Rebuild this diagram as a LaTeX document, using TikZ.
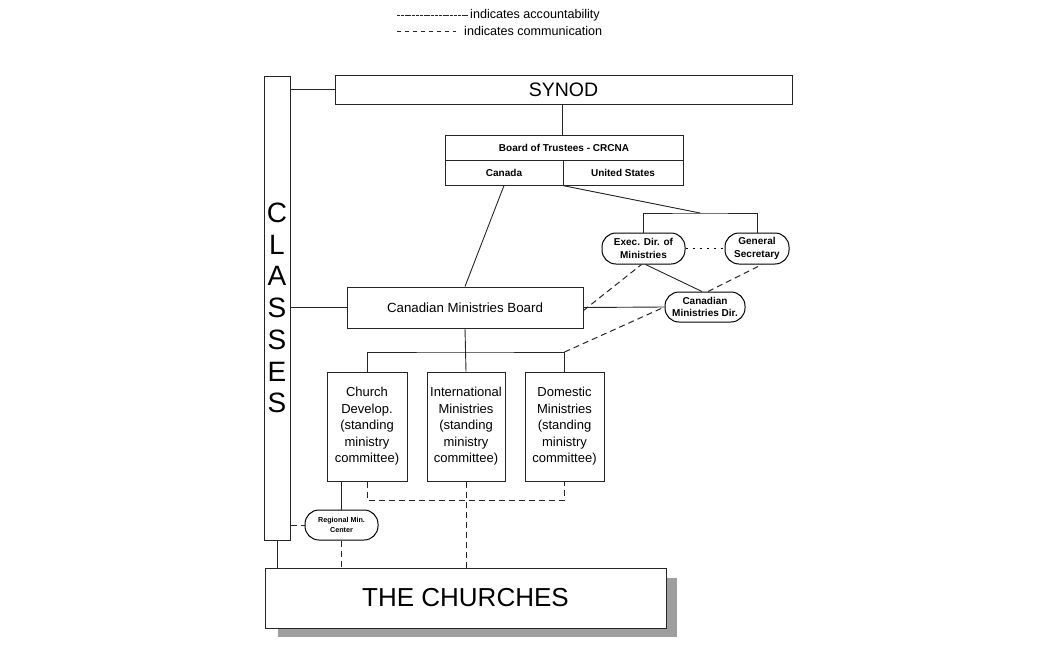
\documentclass[tikz,border=0pt]{standalone}
\usepackage{fontspec}
\setmainfont{Liberation Sans}
\usetikzlibrary{backgrounds}
\tikzset{
  box/.style={draw=black!85, line width=1pt, fill=white, inner sep=0pt, align=center},
  oval/.style={draw=black, line width=1pt, fill=white, inner sep=0pt, align=center, rounded corners=14pt, font=\bfseries\fontsize{10}{12.5}\selectfont},
  smallbold/.style={font=\bfseries\fontsize{10}{11}\selectfont},
  acc/.style={draw=black!85, line width=0.9pt},
  comm/.style={draw=black!85, line width=1pt, dash pattern=on 6pt off 4pt},
  dotline/.style={draw=black, line width=1.3pt, dash pattern=on 2pt off 5pt},
  legtext/.style={inner sep=0pt, anchor=west, font=\fontsize{12.6}{14}\selectfont},
}
\begin{document}
\begin{tikzpicture}[x=1pt,y=-1pt]
\useasboundingbox (0,0) rectangle (1050,656);
% legend
\node[legtext] (leg1) at (470,15) {indicates accountability};
\node[legtext] (leg2) at (464,31) {indicates communication};
\coordinate (l1) at (397,15);
\coordinate (l2) at (397,31);
\draw[acc, dash pattern=on 3pt off 0.8pt, line width=0.8pt] (l1) -- ([xshift=-2pt]leg1.west);
\draw[comm, dash pattern=on 4pt off 4pt, line width=0.8pt] (l2) -- ([xshift=-8pt]leg2.west);
% nodes
\node[box, minimum width=26pt, minimum height=464pt, font=\fontsize{28}{31.7}\selectfont] (classes) at (277,308) {C\\L\\A\\S\\S\\E\\S};
\node[box, minimum width=457pt, minimum height=29pt, font=\fontsize{19.5}{21}\selectfont] (synod) at (563.5,89.5) {SYNOD};
\node[box, smallbold, minimum width=238pt, minimum height=25pt] (bot) at (564,147.5) {Board of Trustees - CRCNA};
\node[box, smallbold, minimum width=118pt, minimum height=25pt] (canada) at (504,172.5) {Canada};
\node[box, smallbold, minimum width=120pt, minimum height=25pt] (us) at (623,172.5) {United States};
\node[oval, minimum width=83pt, minimum height=31pt] (execdir) at (643.5,248.5) {Exec. Dir. of\\Ministries};
\node[oval, minimum width=64pt, minimum height=31pt] (gensec) at (757,248.5) {General\\Secretary};
\node[oval, minimum width=80pt, minimum height=30pt] (candir) at (705,307) {Canadian\\Ministries Dir.};
\node[box, minimum width=236pt, minimum height=41pt, font=\fontsize{13.3}{15}\selectfont] (cmb) at (465,307.5) {Canadian Ministries Board};
\node[box, minimum width=80pt, minimum height=109pt, font=\fontsize{13}{16.5}\selectfont] (cd) at (367,426.5) {Church\\Develop.\\(standing\\ministry\\committee)};
\node[box, minimum width=78pt, minimum height=109pt, font=\fontsize{13}{16.5}\selectfont] (intl) at (466,426.5) {International\\Ministries\\(standing\\ministry\\committee)};
\node[box, minimum width=79pt, minimum height=109pt, font=\fontsize{13}{16.5}\selectfont] (dom) at (564.5,426.5) {Domestic\\Ministries\\(standing\\ministry\\committee)};
\node[oval, minimum width=73pt, minimum height=30pt, font=\bfseries\fontsize{7.2}{9.5}\selectfont] (regional) at (341.5,525) {Regional Min.\\Center};
\node[box, minimum width=401pt, minimum height=60pt, font=\fontsize{26}{28}\selectfont] (churches) at (465.5,598) {THE CHURCHES};
\begin{scope}[on background layer]
\fill[black!38] ([xshift=13pt]churches.south west) rectangle ([xshift=10pt,yshift=-8pt]churches.south east);
\fill[black!38] ([yshift=-10pt]churches.north east) rectangle ([xshift=10pt,yshift=-8pt]churches.south east);
\end{scope}
% junctions
\coordinate (jus) at (700,213);
\coordinate (jcmb) at (465,352);
\coordinate (jdash) at (465,500);
% accountability connectors
\draw[acc] (classes.east |- synod.west) -- (synod.west);
\draw[acc] (synod.south -| us.north west) -- (bot.north -| us.north west);
\draw[acc] (canada.south) -- (cmb.north);
\draw[acc] (us.south west) -- (jus);
\draw[acc] (execdir.north) |- (jus) -| (gensec.north);
\draw[acc] (classes.east |- cmb.west) -- (cmb.west);
\draw[acc] (cmb.east) -- (candir.west);
\draw[acc] ([xshift=2pt]execdir.south) -- ([xshift=-3pt]candir.north);
\draw[acc] (cmb.south) -- (intl.north);
\draw[acc] (cd.north) |- (jcmb) -| (dom.north);
\draw[acc] (regional.north |- cd.south) -- (regional.north);
\draw[acc] (classes.south) -- (classes.south |- churches.north);
% communication connectors
\draw[dotline] (execdir.east) -- (gensec.west);
\draw[comm] ([yshift=-3pt]cmb.east) -- ([xshift=-2pt]execdir.south);
\draw[comm] ([xshift=3pt]candir.north) -- ([xshift=5pt]gensec.south);
\draw[comm] (dom.north |- jcmb) -- (candir.west);
\draw[comm] (cd.south) |- (jdash) -| (dom.south);
\draw[comm] (intl.south) -- (intl.south |- churches.north);
\draw[comm] (classes.east |- regional.west) -- (regional.west);
\draw[comm] (regional.south) -- (regional.south |- churches.north);
\end{tikzpicture}
\end{document}
